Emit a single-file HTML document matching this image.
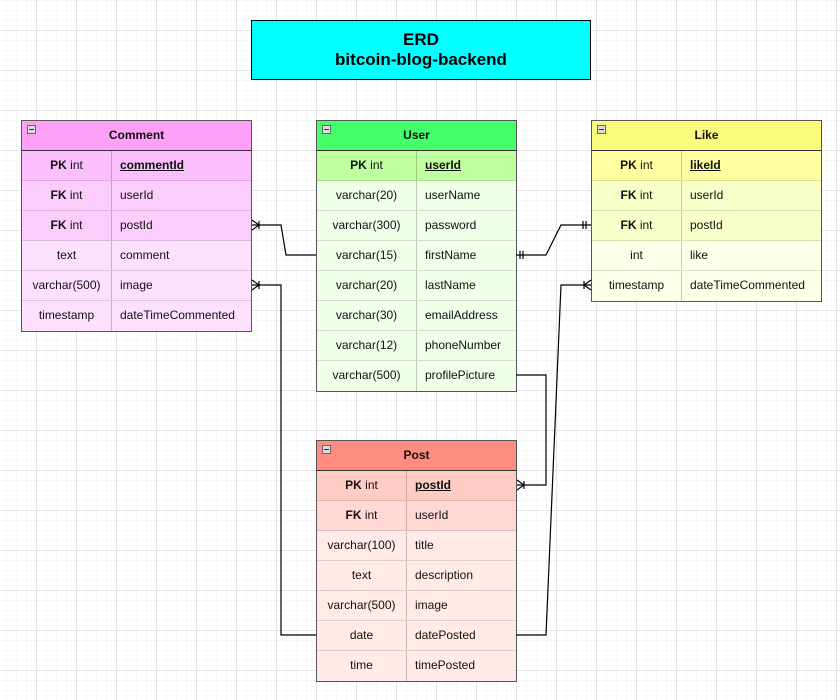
<!DOCTYPE html>
<html><head><meta charset="utf-8"><style>
body{margin:0;width:840px;height:700px;overflow:hidden;background:#fff;font-family:"Liberation Sans",Arial,sans-serif;}
.bg{position:absolute;left:0;top:0;width:840px;height:700px;
background-image:linear-gradient(#e3e3e3 1px,transparent 1px),linear-gradient(90deg,#e3e3e3 1px,transparent 1px),linear-gradient(#f7f7f7 1px,transparent 1px),linear-gradient(90deg,#f7f7f7 1px,transparent 1px);
background-size:40px 40px,40px 40px,10px 10px,10px 10px;background-position:36px 30px,36px 30px,6px 0,6px 0;}
.t{position:absolute;border:1px solid #555;box-sizing:border-box;font-size:12px;color:#111}
.h{height:30px;line-height:29px;text-align:center;font-weight:bold;border-bottom:1px solid #333;position:relative;box-sizing:border-box}
.h i{position:absolute;left:5px;top:4px;width:7px;height:7px;border:1px solid #666;background:#ddd}
.h i:after{content:"";position:absolute;left:1px;top:3px;width:5px;height:1px;background:#333}
.r{height:30px;line-height:29px;display:flex;border-bottom:1px solid rgba(0,0,0,0.12);box-sizing:border-box}
.r:last-child{border-bottom:none}
.a{text-align:center;border-right:1px solid rgba(0,0,0,0.2)}
.b{padding-left:8px}
.pk .b{font-weight:bold;text-decoration:underline}
.k{font-weight:bold}
</style></head><body>
<div class="bg"></div>
<div style="position:absolute;left:251px;top:20px;width:340px;height:60px;background:#00ffff;border:1px solid #000;box-sizing:border-box;text-align:center;font-weight:bold;font-size:17px;line-height:20px;padding-top:9px">ERD<br>bitcoin-blog-backend</div>

<div class="t" style="left:21px;top:120px;width:231px;height:212px">
<div class="h" style="background:#ffa0f8"><i></i>Comment</div>
<div class="r pk" style="background:#fabffc"><div class="a" style="width:89px"><span class="k">PK</span> int</div><div class="b">commentId</div></div>
<div class="r" style="background:#fbcdfd"><div class="a" style="width:89px"><span class="k">FK</span> int</div><div class="b">userId</div></div>
<div class="r" style="background:#fbcdfd"><div class="a" style="width:89px"><span class="k">FK</span> int</div><div class="b">postId</div></div>
<div class="r" style="background:#fde0fd"><div class="a" style="width:89px">text</div><div class="b">comment</div></div>
<div class="r" style="background:#fde0fd"><div class="a" style="width:89px">varchar(500)</div><div class="b">image</div></div>
<div class="r" style="background:#fde0fd"><div class="a" style="width:89px">timestamp</div><div class="b">dateTimeCommented</div></div>
</div>

<div class="t" style="left:316px;top:120px;width:201px;height:272px">
<div class="h" style="background:#44ff6a"><i></i>User</div>
<div class="r pk" style="background:#bfffa0"><div class="a" style="width:99px"><span class="k">PK</span> int</div><div class="b">userId</div></div>
<div class="r" style="background:#f0ffe8"><div class="a" style="width:99px">varchar(20)</div><div class="b">userName</div></div>
<div class="r" style="background:#f0ffe8"><div class="a" style="width:99px">varchar(300)</div><div class="b">password</div></div>
<div class="r" style="background:#f0ffe8"><div class="a" style="width:99px">varchar(15)</div><div class="b">firstName</div></div>
<div class="r" style="background:#f0ffe8"><div class="a" style="width:99px">varchar(20)</div><div class="b">lastName</div></div>
<div class="r" style="background:#f0ffe8"><div class="a" style="width:99px">varchar(30)</div><div class="b">emailAddress</div></div>
<div class="r" style="background:#f0ffe8"><div class="a" style="width:99px">varchar(12)</div><div class="b">phoneNumber</div></div>
<div class="r" style="background:#f0ffe8"><div class="a" style="width:99px">varchar(500)</div><div class="b">profilePicture</div></div>
</div>

<div class="t" style="left:591px;top:120px;width:231px;height:182px">
<div class="h" style="background:#fafa7c"><i></i>Like</div>
<div class="r pk" style="background:#ffffa0"><div class="a" style="width:89px"><span class="k">PK</span> int</div><div class="b">likeId</div></div>
<div class="r" style="background:#f8ffc8"><div class="a" style="width:89px"><span class="k">FK</span> int</div><div class="b">userId</div></div>
<div class="r" style="background:#f8ffc8"><div class="a" style="width:89px"><span class="k">FK</span> int</div><div class="b">postId</div></div>
<div class="r" style="background:#fdffe8"><div class="a" style="width:89px">int</div><div class="b">like</div></div>
<div class="r" style="background:#fdffe8"><div class="a" style="width:89px">timestamp</div><div class="b">dateTimeCommented</div></div>
</div>

<div class="t" style="left:316px;top:440px;width:201px;height:242px">
<div class="h" style="background:#ff8c80"><i></i>Post</div>
<div class="r pk" style="background:#ffccc4"><div class="a" style="width:89px"><span class="k">PK</span> int</div><div class="b">postId</div></div>
<div class="r" style="background:#ffd8d4"><div class="a" style="width:89px"><span class="k">FK</span> int</div><div class="b">userId</div></div>
<div class="r" style="background:#ffeae8"><div class="a" style="width:89px">varchar(100)</div><div class="b">title</div></div>
<div class="r" style="background:#ffeae8"><div class="a" style="width:89px">text</div><div class="b">description</div></div>
<div class="r" style="background:#ffeae8"><div class="a" style="width:89px">varchar(500)</div><div class="b">image</div></div>
<div class="r" style="background:#ffeae8"><div class="a" style="width:89px">date</div><div class="b">datePosted</div></div>
<div class="r" style="background:#ffeae8"><div class="a" style="width:89px">time</div><div class="b">timePosted</div></div>
</div>

<svg style="position:absolute;left:0;top:0" width="840" height="700" fill="none" stroke="#000" stroke-width="1.2">
<path d="M252 225H281L286 255H316"/>
<path d="M252 220L259 225L252 230M259 221V229"/>
<path d="M252 285H281V635H316"/>
<path d="M252 280L259 285L252 290M259 281V289"/>
<path d="M516 255H546L561 225H591"/>
<path d="M520 251V259M523 251V259M583 221V229M586 221V229"/>
<path d="M516 375H546V485H517"/>
<path d="M517 480L524 485L517 490M524 481V489"/>
<path d="M516 635H546L561 285H591"/>
<path d="M591 280L584 285L591 290M584 281V289"/>
</svg>
</body></html>
